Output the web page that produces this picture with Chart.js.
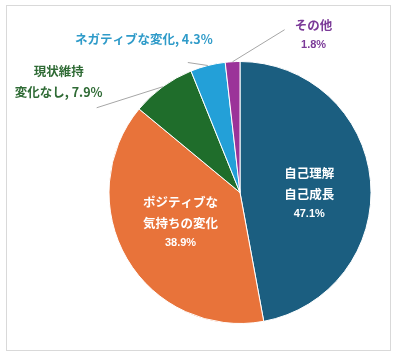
<!DOCTYPE html>
<html>
<head>
<meta charset="utf-8">
<script src="https://cdn.jsdelivr.net/npm/chart.js@4/dist/chart.umd.min.js"></script>
<style>
  html, body { margin: 0; padding: 0; background: #fff; }
  #wrap { position: relative; width: 398px; height: 363px; }
  #frame { position: absolute; left: 6px; top: 5px; width: 385px; height: 346px; border: 1px solid #d9d9d9; box-sizing: border-box; pointer-events: none; }
  canvas { position: absolute; left: 0; top: 0; }
</style>
</head>
<body>
<div id="wrap">
  <canvas id="c" width="398" height="363"></canvas>
  <div id="frame"></div>
</div>
<script>
// ---- data ----
const categories = ['自己理解 自己成長', 'ポジティブな気持ちの変化', '現状維持 変化なし', 'ネガティブな変化', 'その他'];
const values = [47.1, 38.9, 7.9, 4.3, 1.8];
const labelLines = [
  ['自己理解', '自己成長', '47.1%'],
  ['ポジティブな', '気持ちの変化', '38.9%'],
  ['現状維持', '変化なし, 7.9%'],
  ['ネガティブな変化, 4.3%'],
  ['その他', '1.8%']
];
const sliceColors = ['#1b5e80', '#e8733a', '#1f6d2b', '#23a0d8', '#9b3399'];
const labelColors = ['#ffffff', '#ffffff', '#2f6b35', '#2f9bc9', '#7b3a98'];

// ---- label placement (styles / positions) ----
const placement = [
  { inside: true, dx: 4, dy: 6 },
  { inside: true, dx: -3, dy: -4 },
  { inside: false, lineDx: -66, lineDy: 21, textDx: -38, textDy: -26 },
  { inside: false, lineDx: -20, lineDy: -3, textDx: -44, textDy: -23 },
  { inside: false, lineDx: 52, lineDy: -32, textDx: 29, textDy: 5 }
];

const CJK = '"Noto Sans CJK JP", "Noto Sans", sans-serif';

function isAscii(s) { return /^[\x20-\x7e]+$/.test(s); }

const labelPlugin = {
  id: 'pieLabels',
  afterDatasetsDraw(chart) {
    const ctx = chart.ctx;
    const meta = chart.getDatasetMeta(0);
    meta.data.forEach((arc, i) => {
      const p = placement[i];
      const lines = labelLines[i];
      const mid = (arc.startAngle + arc.endAngle) / 2;
      let cx, cy;
      if (p.inside) {
        const r = arc.outerRadius * 0.5;
        cx = arc.x + Math.cos(mid) * r + p.dx;
        cy = arc.y + Math.sin(mid) * r + p.dy;
      } else {
        const ex = arc.x + Math.cos(mid) * arc.outerRadius;
        const ey = arc.y + Math.sin(mid) * arc.outerRadius;
        const lx = ex + p.lineDx, ly = ey + p.lineDy;
        ctx.save();
        ctx.strokeStyle = '#a6a6a6';
        ctx.lineWidth = 1;
        ctx.beginPath();
        ctx.moveTo(ex, ey);
        ctx.lineTo(lx, ly);
        ctx.stroke();
        ctx.restore();
        cx = lx + p.textDx;
        cy = ly + p.textDy;
      }
      const lh = [];
      lines.forEach(l => lh.push(isAscii(l) ? 18 : 21));
      const total = lh.reduce((a, b) => a + b, 0);
      let y = cy - total / 2;
      ctx.save();
      ctx.fillStyle = labelColors[i];
      ctx.textAlign = 'center';
      ctx.textBaseline = 'middle';
      lines.forEach((l, k) => {
        ctx.font = isAscii(l) ? 'bold 11px "Liberation Sans", Arial, sans-serif' : 'bold 12.5px ' + CJK;
        ctx.fillText(l, cx, y + lh[k] / 2);
        y += lh[k];
      });
      ctx.restore();
    });
  }
};

new Chart(document.getElementById('c'), {
  type: 'pie',
  data: {
    labels: categories,
    datasets: [{
      data: values,
      backgroundColor: sliceColors,
      borderColor: '#ffffff',
      borderWidth: 1
    }]
  },
  options: {
    responsive: false,
    animation: false,
    layout: { padding: { left: 108, right: 26, top: 61, bottom: 39 } },
    plugins: { legend: { display: false }, tooltip: { enabled: false } }
  },
  plugins: [labelPlugin]
});
</script>
</body>
</html>
